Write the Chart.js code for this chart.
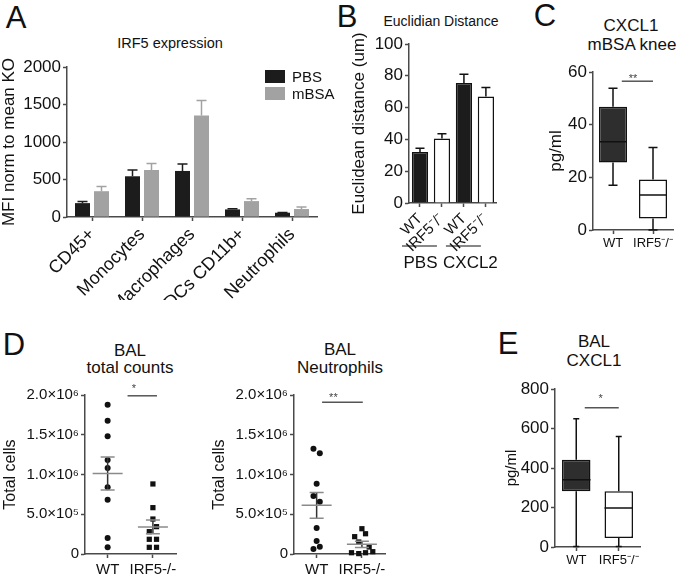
<!DOCTYPE html>
<html>
<head>
<meta charset="utf-8">
<script src="https://cdn.jsdelivr.net/npm/chart.js@4.4.0/dist/chart.umd.min.js"></script>
<style>
  body { margin: 0; background: #fff; }
  #fig { position: relative; width: 680px; height: 577px; overflow: hidden; background: #fff;
         font-family: 'Liberation Sans', Arial, sans-serif; color: #111; }
  #fig canvas { position: absolute; }
  .t { position: absolute; white-space: nowrap; line-height: 1; transform: translate(-50%, -50%); }
  .letter { position: absolute; line-height: 1; transform: translate(-50%, -50%); font-size: 31px; }
</style>
</head>
<body>
<div id="fig">
  <div class="letter" style="left:16px;top:17px">A</div>
  <div class="letter" style="left:347px;top:16px">B</div>
  <div class="letter" style="left:545px;top:15px">C</div>
  <div class="letter" style="left:14px;top:344px">D</div>
  <div class="letter" style="left:508px;top:343px">E</div>

  <div class="t" style="left:170px;top:43px;font-size:14.5px">IRF5 expression</div>
  <div class="t" style="left:441px;top:21px;font-size:14px">Euclidian Distance</div>
  <div class="t" style="left:631px;top:25px;font-size:17px">CXCL1</div>
  <div class="t" style="left:632px;top:44px;font-size:17px">mBSA knee</div>
  <div class="t" style="left:130px;top:350px;font-size:17px">BAL</div>
  <div class="t" style="left:130px;top:367px;font-size:17px">total counts</div>
  <div class="t" style="left:340px;top:349px;font-size:17px">BAL</div>
  <div class="t" style="left:340px;top:367px;font-size:17px">Neutrophils</div>
  <div class="t" style="left:594px;top:341px;font-size:17px">BAL</div>
  <div class="t" style="left:594px;top:360px;font-size:17px">CXCL1</div>

  <canvas id="chartA" width="335" height="250" style="left:0;top:50px"></canvas>
  <canvas id="chartB" width="162" height="250" style="left:340px;top:28px"></canvas>
  <canvas id="chartC" width="135" height="200" style="left:545px;top:55px"></canvas>
  <canvas id="chartD1" width="185" height="202" style="left:0;top:375px"></canvas>
  <canvas id="chartD2" width="185" height="202" style="left:210px;top:375px"></canvas>
  <canvas id="chartE" width="140" height="207" style="left:505px;top:370px"></canvas>
</div>
<script>
// ---- Datos -------------------------------------------------------------

// A: IRF5 expression
const cellTypes  = ['CD45+', 'Monocytes', 'Macrophages', 'DCs CD11b+', 'Neutrophils'];
const pbsMfi     = [185, 543, 614, 101, 57];
const pbsMfiErr  = [22, 84, 92, 9, 4];
const mbsaMfi    = [344, 627, 1355, 212, 106];
const mbsaMfiErr = [62, 88, 199, 31, 26];

// B: Euclidian distance
const distLabels  = ['WT', 'IRF5⁻/⁻', 'WT', 'IRF5⁻/⁻'];
const distMean    = [32, 40.5, 75.5, 67];
const distErr     = [2.5, 3, 5.5, 5.7];
const distTreat   = ['PBS', 'CXCL2'];
const distTreatAt = [[0, 1], [2, 3]];

// C: CXCL1 mBSA knee (box plot)
const genotypes  = ['WT', 'IRF5⁻/⁻'];
const kneeMin    = [17, 0];
const kneeQ1     = [25.6, 4.4];
const kneeMedian = [33.5, 13.3];
const kneeQ3     = [46.8, 19.2];
const kneeMax    = [53.8, 31.3];

// D: BAL counts
const balGroups    = ['WT', 'IRF5-/-'];
const totalWtX     = [1, 1, 1, 1, 1, 1, 1, 1, 1];
const totalWtY     = [1.878e6, 1.677e6, 1.481e6, 1.182e6, 1.082e6, 0.839e6, 0.683e6, 0.201e6, 0.084e6];
const totalKoX     = [2, 2, 2, 2.08, 1.92, 1.92, 2.08, 1.92, 2.08];
const totalKoY     = [0.881e6, 0.583e6, 0.440e6, 0.344e6, 0.281e6, 0.185e6, 0.185e6, 0.084e6, 0.084e6];
const neutroWtX    = [0.93, 1.07, 1, 0.93, 1.07, 1, 1, 0.93, 1.07];
const neutroWtY    = [1.325e6, 1.267e6, 0.884e6, 0.730e6, 0.658e6, 0.327e6, 0.164e6, 0.063e6, 0.092e6];
const neutroKoX    = [2, 2.08, 1.84, 1.93, 2.16, 1.77, 1.93, 2.08, 2.24];
const neutroKoY    = [0.318e6, 0.255e6, 0.218e6, 0.151e6, 0.088e6, 0.016e6, 0.005e6, 0.016e6, 0.029e6];

// E: BAL CXCL1 (box plot)
const balMin    = [3, 3];
const balQ1     = [282, 45];
const balMedian = [341, 197];
const balQ3     = [442, 282];
const balMax    = [650, 560];

// ---- Estilo común --------------------------------------------------------

const FONT = "'Liberation Sans', Arial, sans-serif";
const INK  = '#111';
const AXIS = '#4a4a4a';
Chart.defaults.font.family = FONT;
Chart.defaults.color = INK;

const SUP = { '0': '⁰', '1': '¹', '2': '²', '3': '³', '4': '⁴', '5': '⁵', '6': '⁶', '7': '⁷', '8': '⁸', '9': '⁹' };
function sci(v) {
    if (v === 0) return '0';
    const e = Math.floor(Math.log10(v) + 1e-9);
    const m = v / Math.pow(10, e);
    return m.toFixed(1) + '×10' + String(e).split('').map(c => SUP[c]).join('');
}

function stats(vals) {
    const n = vals.length;
    const mean = vals.reduce((a, b) => a + b, 0) / n;
    const sd = Math.sqrt(vals.reduce((a, v) => a + (v - mean) ** 2, 0) / (n - 1));
    return { mean, sem: sd / Math.sqrt(n) };
}

function yAxis(min, max, step, width, title, titleSize, titlePad, tickSize, fmt) {
    return {
        min, max,
        ticks: { stepSize: step, padding: 2, color: INK, font: { size: tickSize }, callback: fmt || (v => String(v)) },
        grid: { drawOnChartArea: false, tickLength: 4, tickWidth: 1.5, tickColor: AXIS },
        border: { color: AXIS, width: 1.5 },
        title: { display: true, text: title, color: INK, font: { size: titleSize, lineHeight: 1 },
                 padding: { top: titlePad, bottom: 0 } },
        afterFit: s => { s.width = width; }
    };
}

function xCat(height, rot, size, pad) {
    return {
        offset: true,
        ticks: { maxRotation: rot, minRotation: rot, padding: pad, color: INK, font: { size }, autoSkip: false },
        grid: { offset: false, drawOnChartArea: false, tickLength: 4, tickWidth: 1.5, tickColor: AXIS },
        border: { color: AXIS, width: 1.5 },
        afterFit: s => { s.height = height; }
    };
}

// ---- Plugins -------------------------------------------------------------

const errorBars = {
    id: 'errorBars',
    afterDatasetsDraw(chart, args, o) {
        const { ctx } = chart;
        const y = chart.scales.y;
        chart.data.datasets.forEach((ds, di) => {
            if (!ds.errors) return;
            chart.getDatasetMeta(di).data.forEach((bar, i) => {
                const top = y.getPixelForValue(ds.data[i] + ds.errors[i]);
                ctx.save();
                ctx.strokeStyle = ds.errorColor;
                ctx.lineWidth = 1.5;
                ctx.beginPath();
                ctx.moveTo(bar.x, bar.y);
                ctx.lineTo(bar.x, top);
                ctx.moveTo(bar.x - o.cap / 2, top);
                ctx.lineTo(bar.x + o.cap / 2, top);
                ctx.stroke();
                ctx.restore();
            });
        });
    }
};

const boxPlot = {
    id: 'boxPlot',
    afterDatasetsDraw(chart, args, o) {
        const { ctx } = chart;
        const y = chart.scales.y;
        chart.getDatasetMeta(0).data.forEach((bar, i) => {
            const half = bar.width / 2;
            const yMin = y.getPixelForValue(o.min[i]);
            const yMax = y.getPixelForValue(o.max[i]);
            const yQ1 = y.getPixelForValue(o.q1[i]);
            const yQ3 = y.getPixelForValue(o.q3[i]);
            const yMed = y.getPixelForValue(o.median[i]);
            ctx.save();
            ctx.strokeStyle = '#111';
            ctx.lineWidth = 1.5;
            ctx.beginPath();
            ctx.moveTo(bar.x, yQ3); ctx.lineTo(bar.x, yMax);
            ctx.moveTo(bar.x - o.cap / 2, yMax); ctx.lineTo(bar.x + o.cap / 2, yMax);
            ctx.moveTo(bar.x, yQ1); ctx.lineTo(bar.x, yMin);
            ctx.moveTo(bar.x - o.cap / 2, yMin); ctx.lineTo(bar.x + o.cap / 2, yMin);
            ctx.moveTo(bar.x - half, yMed); ctx.lineTo(bar.x + half, yMed);
            ctx.stroke();
            ctx.restore();
        });
    }
};

const meanSem = {
    id: 'meanSem',
    afterDatasetsDraw(chart, args, o) {
        const { ctx } = chart;
        const xs = chart.scales.x, ys = chart.scales.y;
        o.groups.forEach(g => {
            const cx = xs.getPixelForValue(g.x);
            const m = ys.getPixelForValue(g.mean);
            const hi = ys.getPixelForValue(g.mean + g.sem);
            const lo = ys.getPixelForValue(g.mean - g.sem);
            ctx.save();
            ctx.lineWidth = 1.5;
            ctx.strokeStyle = '#333';
            ctx.beginPath();
            ctx.moveTo(cx, hi); ctx.lineTo(cx, lo);
            ctx.stroke();
            ctx.strokeStyle = '#8a8a8a';
            ctx.beginPath();
            ctx.moveTo(cx - 15, m); ctx.lineTo(cx + 15, m);
            ctx.moveTo(cx - 7, hi); ctx.lineTo(cx + 7, hi);
            ctx.moveTo(cx - 7, lo); ctx.lineTo(cx + 7, lo);
            ctx.stroke();
            ctx.restore();
        });
    }
};

const sigBar = {
    id: 'sigBar',
    afterDraw(chart, args, o) {
        const { ctx } = chart;
        const xs = chart.scales.x, ys = chart.scales.y;
        const x1 = xs.getPixelForValue(o.from), x2 = xs.getPixelForValue(o.to);
        const yy = ys.getPixelForValue(o.level);
        ctx.save();
        ctx.strokeStyle = '#555';
        ctx.lineWidth = 1.5;
        ctx.beginPath();
        ctx.moveTo(x1, yy); ctx.lineTo(x2, yy);
        ctx.stroke();
        ctx.fillStyle = '#444';
        ctx.font = '11px ' + FONT;
        ctx.textAlign = 'center';
        ctx.textBaseline = 'alphabetic';
        ctx.fillText(o.stars, xs.getPixelForValue(o.starAt), yy - o.gap + 6.4);
        ctx.restore();
    }
};

const groupLines = {
    id: 'groupLines',
    afterDraw(chart, args, o) {
        const { ctx, chartArea } = chart;
        const xs = chart.scales.x;
        o.names.forEach((name, i) => {
            const [a, b] = o.spans[i];
            const x1 = xs.getPixelForValue(a) - 18, x2 = xs.getPixelForValue(b) - 5;
            const ly = chartArea.bottom + o.lineOffset;
            ctx.save();
            ctx.strokeStyle = INK;
            ctx.lineWidth = 1.2;
            ctx.beginPath();
            ctx.moveTo(x1, ly); ctx.lineTo(x2, ly);
            ctx.stroke();
            ctx.fillStyle = INK;
            ctx.font = '17px ' + FONT;
            ctx.textAlign = 'center';
            ctx.textBaseline = 'middle';
            ctx.fillText(name, (x1 + x2) / 2 + o.shift[i], chartArea.bottom + o.textOffset);
            ctx.restore();
        });
    }
};

const boxLegend = {
    id: 'boxLegend',
    afterDraw(chart, args, o) {
        const { ctx, chartArea } = chart;
        chart.data.datasets.forEach((ds, i) => {
            const x = chartArea.right - o.right;
            const y = chartArea.top + o.top + i * o.step;
            ctx.save();
            ctx.fillStyle = ds.backgroundColor;
            ctx.fillRect(x, y, 20, 13);
            ctx.fillStyle = INK;
            ctx.font = '15px ' + FONT;
            ctx.textBaseline = 'middle';
            ctx.fillText(ds.label, x + 27, y + 7.5);
            ctx.restore();
        });
    }
};

const base = { responsive: false, animation: false, events: [] };
const noChrome = { legend: { display: false }, tooltip: { enabled: false } };

// ---- A -------------------------------------------------------------------

new Chart(document.getElementById('chartA'), {
    type: 'bar',
    data: {
        labels: cellTypes,
        datasets: [
            { label: 'PBS', data: pbsMfi, errors: pbsMfiErr, backgroundColor: '#1c1c1c', errorColor: '#1c1c1c',
              categoryPercentage: 0.76, barPercentage: 0.79 },
            { label: 'mBSA', data: mbsaMfi, errors: mbsaMfiErr, backgroundColor: '#a2a2a2', errorColor: '#a2a2a2',
              categoryPercentage: 0.76, barPercentage: 0.79 }
        ]
    },
    options: {
        ...base,
        layout: { padding: { top: 17, right: 18, left: 0, bottom: 0 } },
        scales: {
            x: xCat(83, 45, 18, 3),
            y: yAxis(0, 2000, 500, 67, 'MFI norm to mean KO', 17, 0.5, 17)
        },
        plugins: { ...noChrome, errorBars: { cap: 10 }, boxLegend: { right: 52, top: 3, step: 17 } }
    },
    plugins: [errorBars, boxLegend]
});

// ---- B -------------------------------------------------------------------

new Chart(document.getElementById('chartB'), {
    type: 'bar',
    data: {
        labels: distLabels,
        datasets: [{
            data: distMean, errors: distErr, errorColor: '#111',
            backgroundColor: ['#1c1c1c', '#ffffff', '#1c1c1c', '#ffffff'],
            borderColor: '#111', borderWidth: 1.5,
            categoryPercentage: 1, barPercentage: 0.74
        }]
    },
    options: {
        ...base,
        layout: { padding: { top: 16, right: 3, left: 0, bottom: 0 } },
        scales: {
            x: xCat(75, 45, 15, 3),
            y: yAxis(0, 100, 20, 69, 'Euclidean distance (um)', 17, 10.5, 17)
        },
        plugins: { ...noChrome, errorBars: { cap: 9 },
                   groupLines: { names: distTreat, spans: distTreatAt, shift: [1, 7],
                                 lineOffset: 43, textOffset: 60 } }
    },
    plugins: [errorBars, groupLines]
});

// ---- C -------------------------------------------------------------------

new Chart(document.getElementById('chartC'), {
    type: 'bar',
    data: {
        labels: genotypes,
        datasets: [{
            data: kneeQ1.map((q, i) => [q, kneeQ3[i]]),
            backgroundColor: ['#2e2e2e', '#ffffff'],
            borderColor: '#111', borderWidth: 1.5, borderSkipped: false,
            categoryPercentage: 1, barPercentage: 0.7
        }]
    },
    options: {
        ...base,
        layout: { padding: { top: 17, right: 7, left: 0, bottom: 0 } },
        scales: {
            x: xCat(25, 0, 13, 2),
            y: yAxis(0, 60, 20, 48, 'pg/ml', 17, 2.5, 17)
        },
        plugins: { ...noChrome,
                   boxPlot: { min: kneeMin, q1: kneeQ1, median: kneeMedian, q3: kneeQ3, max: kneeMax, cap: 9 },
                   sigBar: { from: 0.22, to: 1.0, level: 56.5, stars: '**', starAt: 0.5, gap: 6 } }
    },
    plugins: [boxPlot, sigBar]
});

// ---- D -------------------------------------------------------------------

function balScatter(id, wtX, wtY, koX, koY, yPad, sig) {
    const wt = stats(wtY), ko = stats(koY);
    return new Chart(document.getElementById(id), {
        type: 'scatter',
        data: {
            datasets: [
                { data: wtX.map((x, i) => ({ x, y: wtY[i] })), pointStyle: 'circle', pointRadius: 3,
                  backgroundColor: '#111', borderWidth: 0, clip: false },
                { data: koX.map((x, i) => ({ x, y: koY[i] })), pointStyle: 'rect', pointRadius: 3.7,
                  backgroundColor: '#111', borderWidth: 0, clip: false }
            ]
        },
        options: {
            ...base,
            layout: { padding: { top: 20, right: id === 'chartD1' ? 9 : 10, left: 0, bottom: 0 } },
            scales: {
                x: {
                    type: 'linear', min: 0.5, max: 2.51,
                    afterBuildTicks: s => { s.ticks = [{ value: 1 }, { value: 2 }]; },
                    ticks: { padding: 3, color: INK, font: { size: 15 }, callback: v => balGroups[v - 1] },
                    grid: { drawOnChartArea: false, tickLength: 4, tickWidth: 1.5, tickColor: AXIS },
                    border: { color: AXIS, width: 1.5 },
                    afterFit: s => { s.height = 23; }
                },
                y: yAxis(0, 2e6, 5e5, id === 'chartD1' ? 85 : 84, 'Total cells', 16, yPad, 15, sci)
            },
            plugins: { ...noChrome,
                       meanSem: { groups: [{ x: 1, ...wt }, { x: 2, ...ko }] },
                       sigBar: sig }
        },
        plugins: [meanSem, sigBar]
    });
}

balScatter('chartD1', totalWtX, totalWtY, totalKoX, totalKoY, 3,
           { from: 1.44, to: 2.09, level: 1.99e6, stars: '*', starAt: 1.58, gap: 10 });
balScatter('chartD2', neutroWtX, neutroWtY, neutroKoX, neutroKoY, 2,
           { from: 1.12, to: 2.02, level: 1.908e6, stars: '**', starAt: 1.37, gap: 8 });

// ---- E -------------------------------------------------------------------

new Chart(document.getElementById('chartE'), {
    type: 'bar',
    data: {
        labels: genotypes,
        datasets: [{
            data: balQ1.map((q, i) => [q, balQ3[i]]),
            backgroundColor: ['#2e2e2e', '#ffffff'],
            borderColor: '#111', borderWidth: 1.5, borderSkipped: false,
            categoryPercentage: 1, barPercentage: 0.67
        }]
    },
    options: {
        ...base,
        layout: { padding: { top: 19, right: 5, left: 0, bottom: 0 } },
        scales: {
            x: xCat(30, 0, 13, 2),
            y: yAxis(0, 800, 200, 50, 'pg/ml', 15, -0.5, 17)
        },
        plugins: { ...noChrome,
                   boxPlot: { min: balMin, q1: balQ1, median: balMedian, q3: balQ3, max: balMax, cap: 6 },
                   sigBar: { from: 0.2, to: 1.0, level: 705, stars: '*', starAt: 0.575, gap: 12 } }
    },
    plugins: [boxPlot, sigBar]
});
</script>
</body>
</html>
